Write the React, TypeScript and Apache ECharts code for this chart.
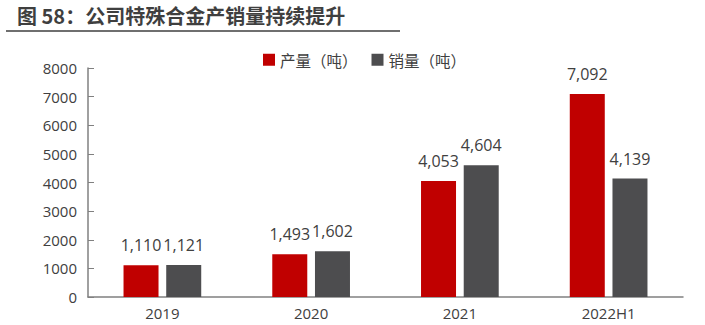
import React, { useEffect, useRef } from "react";
import * as echarts from "echarts";

const categories = ["2019", "2020", "2021", "2022H1"];
const production = [1110, 1493, 4053, 7092];
const sales = [1121, 1602, 4604, 4139];
const seriesNames = ["产量（吨）", "销量（吨）"];
const titleText = "图 58：公司特殊合金产销量持续提升";

const fmt = (v: number) => v.toLocaleString("en-US");

export default function App() {
  const ref = useRef<HTMLDivElement>(null);
  useEffect(() => {
    if (!ref.current) return;
    const chart = echarts.init(ref.current, undefined, { renderer: "svg" });
    const font = "'Open Sans', 'Noto Sans CJK SC', sans-serif";
    chart.setOption({
      animation: false,
      backgroundColor: "#ffffff",
      textStyle: { fontFamily: font },
      graphic: [
        {
          type: "text",
          left: 17,
          top: 5,
          style: {
            text: titleText,
            fontFamily: "'Noto Sans CJK SC', sans-serif",
            fontWeight: "bold",
            fontSize: 20,
            fill: "#3f3f3f",
          },
        },
        {
          type: "line",
          shape: { x1: 6, y1: 31, x2: 400, y2: 31 },
          style: { stroke: "#6f6f6f", lineWidth: 2 },
        },
      ],
      legend: {
        top: 47,
        left: 258,
        itemWidth: 12,
        itemHeight: 12,
        itemGap: 14,
        itemStyle: { borderWidth: 0 },
        icon: "rect",
        textStyle: { fontSize: 15.5, color: "#404040", fontFamily: "'Noto Sans CJK SC', sans-serif" },
        data: seriesNames,
      },
      grid: { left: 88, right: 22, top: 68, bottom: 28, containLabel: false },
      xAxis: {
        type: "category",
        data: categories,
        axisLine: { lineStyle: { color: "#808080", width: 1.5 } },
        axisTick: { show: false },
        axisLabel: { fontSize: 15, color: "#404040", margin: 8 },
      },
      yAxis: {
        type: "value",
        min: 0,
        max: 8000,
        interval: 1000,
        splitLine: { show: false },
        axisLine: { show: true, lineStyle: { color: "#808080", width: 1.5 } },
        axisTick: { show: true, inside: true, length: 6, lineStyle: { color: "#808080" } },
        axisLabel: { fontSize: 15, color: "#404040", margin: 11, formatter: (v: number) => String(v) },
      },
      series: [
        {
          name: seriesNames[0],
          type: "bar",
          data: production,
          barWidth: 35,
          barGap: "22%",
          itemStyle: { color: "#C00000" },
          label: {
            show: true,
            position: "top",
            distance: 12,
            fontSize: 16,
            color: "#404040",
            formatter: (p: any) => fmt(p.value),
          },
        },
        {
          name: seriesNames[1],
          type: "bar",
          data: sales,
          barWidth: 35,
          barGap: "22%",
          itemStyle: { color: "#4D4D4F" },
          label: {
            show: true,
            position: "top",
            distance: 12,
            fontSize: 16,
            color: "#404040",
            formatter: (p: any) => fmt(p.value),
          },
        },
      ],
    });
    return () => chart.dispose();
  }, []);
  return (
    <div
      ref={ref}
      style={{ position: "fixed", left: 0, top: 0, width: 705, height: 325 }}
    />
  );
}
